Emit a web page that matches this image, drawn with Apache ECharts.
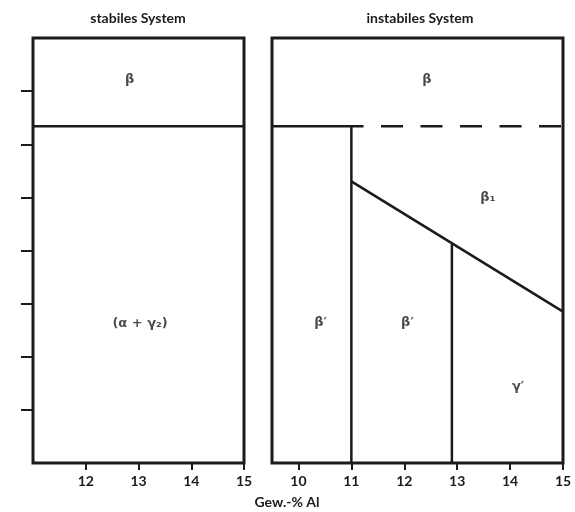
<!DOCTYPE html>
<html>
<head>
<meta charset="utf-8">
<script src="https://cdn.jsdelivr.net/npm/echarts@6/dist/echarts.min.js"></script>
<style>
  html, body { margin: 0; padding: 0; background: #fff; }
  #chart { width: 575px; height: 512px; }
</style>
</head>
<body>
<div id="chart"></div>
<script>
// ---- data ----
const panelTitles = ['stabiles System', 'instabiles System'];
const xAxisTitle = 'Gew.-% Al';
const xTicksStable = [12, 13, 14, 15];
const xTicksUnstable = [10, 11, 12, 13, 14, 15];
const yTicks = [1, 2, 3, 4, 5, 6, 7];

const stableBoundary = [[11, 6.34], [15, 6.34]];
const unstableSolid = [[9.5, 6.34], [11.23, 6.34]];
const unstableDashed = [[11.23, 6.34], [15, 6.34]];
const verticalA = [[11, 0], [11, 6.34]];
const slopeLine = [[11, 5.3], [15, 2.85]];
const verticalB = [[12.9, 0], [12.9, 4.12]];

const stableLabels = [
  { name: 'β', value: [12.83, 7.21] },
  { name: '(α + γ₂)', value: [13.03, 2.62] }
];
const unstableLabels = [
  { name: 'β', value: [12.43, 7.21] },
  { name: 'β₁', value: [13.58, 5.0] },
  { name: 'β′', value: [10.42, 2.64] },
  { name: 'β′', value: [12.06, 2.64] },
  { name: 'γ′', value: [14.15, 1.43] }
];

// ---- chart ----
const ink = '#1b1b1b';
const chart = echarts.init(document.getElementById('chart'), null, { renderer: 'canvas' });

function lineSeries(data, axisIdx, type, offset) {
  return {
    type: 'line', data: data, xAxisIndex: axisIdx, yAxisIndex: axisIdx,
    symbol: 'none', silent: true, clip: false,
    lineStyle: { color: ink, width: 2.5, type: type || 'solid', dashOffset: offset || 0 }
  };
}
function labelSeries(data, axisIdx, size) {
  return {
    type: 'scatter', data: data, xAxisIndex: axisIdx, yAxisIndex: axisIdx,
    symbolSize: 0, silent: true,
    label: { show: true, position: 'inside', formatter: '{b}', color: ink,
             fontFamily: 'DejaVu Sans', fontSize: size, fontWeight: 'bold' }
  };
}

const gridCommon = { top: 38, bottom: 49, show: true, borderColor: ink, borderWidth: 3, backgroundColor: 'transparent' };

const option = {
  animation: false,
  backgroundColor: '#ffffff',
  grid: [
    Object.assign({ left: 33, right: 331 }, gridCommon),
    Object.assign({ left: 272, right: 12 }, gridCommon)
  ],
  xAxis: [
    {
      gridIndex: 0, type: 'value', min: 11, max: 15, interval: 1,
      splitLine: { show: false }, axisLine: { show: false },
      axisTick: { show: true, customValues: xTicksStable, length: 7, lineStyle: { color: ink, width: 2 } },
      axisLabel: { customValues: xTicksStable, color: ink, fontSize: 14, fontWeight: 'bold', fontFamily: 'Lato', margin: 11 }
    },
    {
      gridIndex: 1, type: 'value', min: 9.5, max: 15,
      splitLine: { show: false }, axisLine: { show: false },
      axisTick: { show: true, customValues: xTicksUnstable, length: 7, lineStyle: { color: ink, width: 2 } },
      axisLabel: { customValues: xTicksUnstable, color: ink, fontSize: 14, fontWeight: 'bold', fontFamily: 'Lato', margin: 11 }
    }
  ],
  yAxis: [
    {
      gridIndex: 0, type: 'value', min: 0, max: 8, interval: 1,
      splitLine: { show: false }, axisLine: { show: false },
      axisTick: { show: true, customValues: yTicks, length: 12, lineStyle: { color: ink, width: 2 } },
      axisLabel: { show: false }
    },
    {
      gridIndex: 1, type: 'value', min: 0, max: 8, interval: 1,
      splitLine: { show: false }, axisLine: { show: false },
      axisTick: { show: false }, axisLabel: { show: false }
    }
  ],
  graphic: [
    { type: 'text', x: 138, y: 18, style: { text: panelTitles[0], textAlign: 'center', textVerticalAlign: 'middle',
      font: 'bold 14px Lato', fill: ink } },
    { type: 'text', x: 420, y: 18, style: { text: panelTitles[1], textAlign: 'center', textVerticalAlign: 'middle',
      font: 'bold 14px Lato', fill: ink } },
    { type: 'text', x: 287, y: 502, style: { text: xAxisTitle, textAlign: 'center', textVerticalAlign: 'middle',
      font: 'bold 14px Lato', fill: ink } }
  ],
  series: [
    lineSeries(stableBoundary, 0),
    lineSeries(unstableSolid, 1),
    lineSeries(unstableDashed, 1, [22, 17.5], 22),
    lineSeries(verticalA, 1),
    lineSeries(slopeLine, 1),
    lineSeries(verticalB, 1),
    labelSeries(stableLabels, 0, 13),
    labelSeries(unstableLabels, 1, 13)
  ]
};
chart.setOption(option);
</script>
</body>
</html>
